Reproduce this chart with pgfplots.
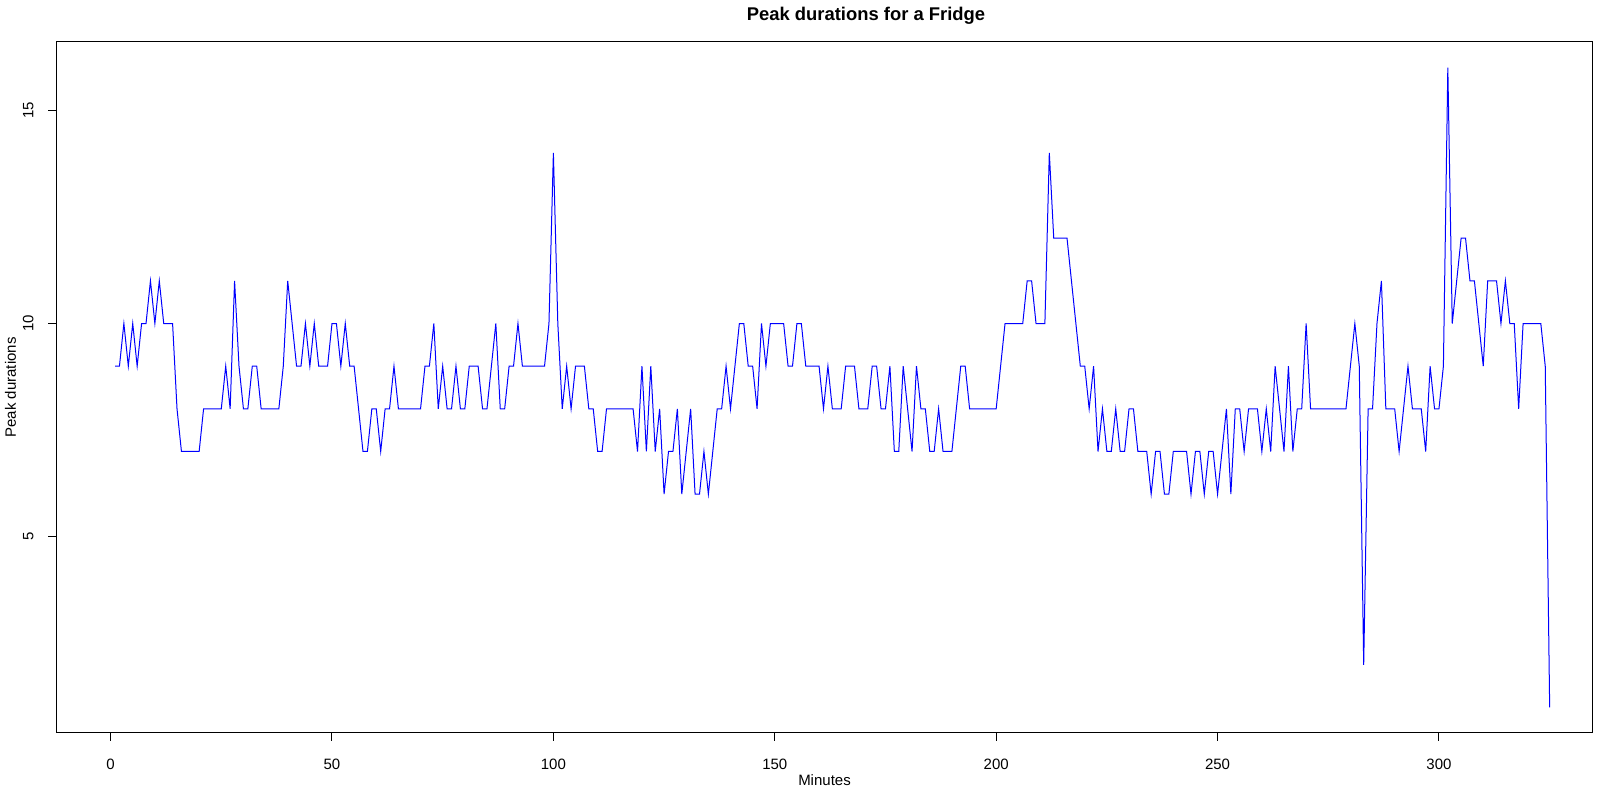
\documentclass[border=0pt]{standalone}
\usepackage{fontspec}
\setmainfont{Liberation Sans}
\usepackage{pgfplots}
\pgfplotsset{compat=1.18}
\begin{document}
\begin{tikzpicture}
\begin{axis}[
  name=ax,
  scale only axis,
  width=768.1pt, height=345.5pt,
  xmin=-12.24, xmax=334.7, ymin=0.4, ymax=16.6,
  xtick={0,50,100,150,200,250,300},
  ytick={5,10,15},
  xtick pos=bottom, ytick pos=left,
  tick align=outside,
  major tick length=4pt,
  tick style={black, line width=0.5pt},
  axis line style={black, line width=0.5pt},
  /pgf/number format/assume math mode=true,
  ticklabel style={font=\fontsize{7.5}{9}\selectfont},
  xticklabel style={anchor=north, inner sep=0pt},
  xticklabel shift=9pt,
  yticklabel style={rotate=90, anchor=south, inner sep=0pt},
  yticklabel shift=7.3pt,
]
\addplot[color=blue, line width=0.5pt, mark=none] table {
x y
1 9
2 9
3 10
4 9
5 10
6 9
7 10
8 10
9 11
10 10
11 11
12 10
13 10
14 10
15 8
16 7
17 7
18 7
19 7
20 7
21 8
22 8
23 8
24 8
25 8
26 9
27 8
28 11
29 9
30 8
31 8
32 9
33 9
34 8
35 8
36 8
37 8
38 8
39 9
40 11
41 10
42 9
43 9
44 10
45 9
46 10
47 9
48 9
49 9
50 10
51 10
52 9
53 10
54 9
55 9
56 8
57 7
58 7
59 8
60 8
61 7
62 8
63 8
64 9
65 8
66 8
67 8
68 8
69 8
70 8
71 9
72 9
73 10
74 8
75 9
76 8
77 8
78 9
79 8
80 8
81 9
82 9
83 9
84 8
85 8
86 9
87 10
88 8
89 8
90 9
91 9
92 10
93 9
94 9
95 9
96 9
97 9
98 9
99 10
100 14
101 10
102 8
103 9
104 8
105 9
106 9
107 9
108 8
109 8
110 7
111 7
112 8
113 8
114 8
115 8
116 8
117 8
118 8
119 7
120 9
121 7
122 9
123 7
124 8
125 6
126 7
127 7
128 8
129 6
130 7
131 8
132 6
133 6
134 7
135 6
136 7
137 8
138 8
139 9
140 8
141 9
142 10
143 10
144 9
145 9
146 8
147 10
148 9
149 10
150 10
151 10
152 10
153 9
154 9
155 10
156 10
157 9
158 9
159 9
160 9
161 8
162 9
163 8
164 8
165 8
166 9
167 9
168 9
169 8
170 8
171 8
172 9
173 9
174 8
175 8
176 9
177 7
178 7
179 9
180 8
181 7
182 9
183 8
184 8
185 7
186 7
187 8
188 7
189 7
190 7
191 8
192 9
193 9
194 8
195 8
196 8
197 8
198 8
199 8
200 8
201 9
202 10
203 10
204 10
205 10
206 10
207 11
208 11
209 10
210 10
211 10
212 14
213 12
214 12
215 12
216 12
217 11
218 10
219 9
220 9
221 8
222 9
223 7
224 8
225 7
226 7
227 8
228 7
229 7
230 8
231 8
232 7
233 7
234 7
235 6
236 7
237 7
238 6
239 6
240 7
241 7
242 7
243 7
244 6
245 7
246 7
247 6
248 7
249 7
250 6
251 7
252 8
253 6
254 8
255 8
256 7
257 8
258 8
259 8
260 7
261 8
262 7
263 9
264 8
265 7
266 9
267 7
268 8
269 8
270 10
271 8
272 8
273 8
274 8
275 8
276 8
277 8
278 8
279 8
280 9
281 10
282 9
283 2
284 8
285 8
286 10
287 11
288 8
289 8
290 8
291 7
292 8
293 9
294 8
295 8
296 8
297 7
298 9
299 8
300 8
301 9
302 16
303 10
304 11
305 12
306 12
307 11
308 11
309 10
310 9
311 11
312 11
313 11
314 10
315 11
316 10
317 10
318 8
319 10
320 10
321 10
322 10
323 10
324 9
325 1
};
\end{axis}
\node[anchor=base, font=\bfseries\fontsize{9.2}{11}\selectfont] at ([xshift=20.75pt,yshift=10.5pt]ax.north) {Peak durations for a Fridge};
\node[anchor=base, font=\fontsize{7.5}{9}\selectfont] at ([yshift=-26.25pt]ax.south) {Minutes};
\node[anchor=base, rotate=90, font=\fontsize{7.5}{9}\selectfont] at ([xshift=-20.25pt]ax.west) {Peak durations};
\pgfresetboundingbox
\path ([xshift=-28.2pt,yshift=-28pt]ax.south west) rectangle ([xshift=8.2pt,yshift=21pt]ax.north east);
\end{tikzpicture}
\end{document}
